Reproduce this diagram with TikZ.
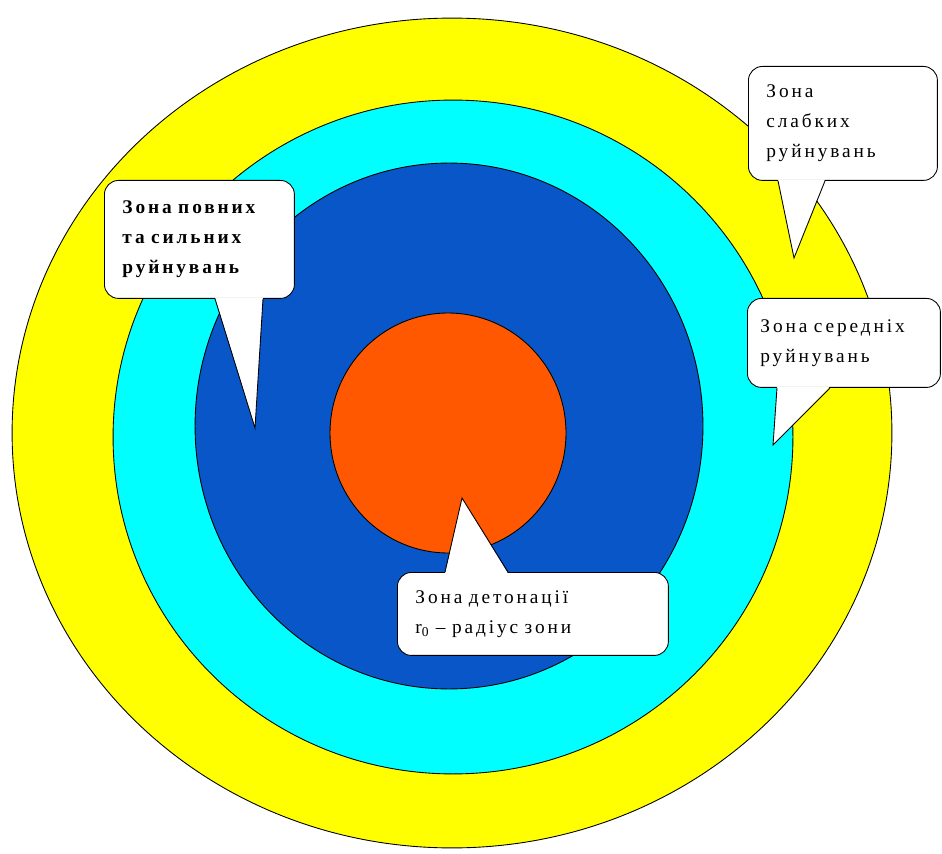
\documentclass[tikz,border=0pt]{standalone}
\usepackage{fontspec}
\setmainfont{Liberation Serif}
\newfontfamily\zonefont[LetterSpace=15,WordSpace=1.8]{Liberation Serif}
\usetikzlibrary{calc}
\definecolor{zoneyellow}{RGB}{255,255,0}
\definecolor{zonecyan}{RGB}{0,255,255}
\definecolor{zoneblue}{RGB}{8,86,200}
\definecolor{zoneorange}{RGB}{255,88,0}
\tikzset{
  zring/.style={draw=black,line width=0.5pt},
  zbox/.style={draw=black,fill=white,rounded corners=0.28cm,line width=0.5pt,anchor=north west,
               align=left,inner xsep=0.36cm,inner ysep=0pt,font=\zonefont\fontsize{11}{17}\selectfont},
  zboxb/.style={zbox,font=\zonefont\bfseries\fontsize{11}{17}\selectfont},
  zedge/.style={draw=black,line width=0.5pt},
}

\begin{document}
\begin{tikzpicture}[x=0.02cm,y=-0.02cm]
\useasboundingbox (0,0) rectangle (942,854);

% ============ rings, outer to inner ============
\filldraw[zring,fill=zoneyellow] (452,433) ellipse [x radius=8.8cm,y radius=8.3cm];
\filldraw[zring,fill=zonecyan]   (453,437) ellipse [x radius=6.8cm,y radius=6.74cm];
\filldraw[zring,fill=zoneblue]   (449,426) ellipse [x radius=5.08cm,y radius=5.26cm];
\filldraw[zring,fill=zoneorange] (448,433) ellipse [x radius=2.36cm,y radius=2.4cm];

% ============ callouts ============
\node[zbox,text width=3.06cm,minimum height=2.28cm] (slabki) at (748,66)
  {Зона\\ слабких\\ руйнувань};
\node[zboxb,text width=3.08cm,minimum height=2.36cm] (povni) at (104,180)
  {Зона повних\\ та сильних\\ руйнувань};
\node[zbox,text width=3.34cm,inner xsep=0.26cm,minimum height=1.78cm] (seredni) at (747,298)
  {Зона середніх\\ руйнувань};
\node[zbox,text width=4.7cm,minimum height=1.66cm] (deton) at (397,572)
  {Зона детонації\\ r\textsubscript{0} – радіус зони};

\coordinate (tip-slabki)  at (794,258);
\coordinate (tip-povni)   at (255,428);
\coordinate (tip-seredni) at (773,445);
\coordinate (tip-deton)   at (462,498);

% pointers: white wedge pushed a little into the box so its border is hidden
\foreach \nm/\a/\b/\corner/\dy in {slabki/30/77/south west/-1.5, povni/111/159/south west/-1.5,
                                   seredni/30/83/south west/-1.5, deton/48/111/north west/1.5} {
  \fill[white] ($(\nm.\corner)+(\a,\dy)$) -- (tip-\nm) -- ($(\nm.\corner)+(\b,\dy)$) -- cycle;
  \draw[zedge] ($(\nm.\corner)+(\a,0)$) -- (tip-\nm) -- ($(\nm.\corner)+(\b,0)$);
}
\end{tikzpicture}
\end{document}
